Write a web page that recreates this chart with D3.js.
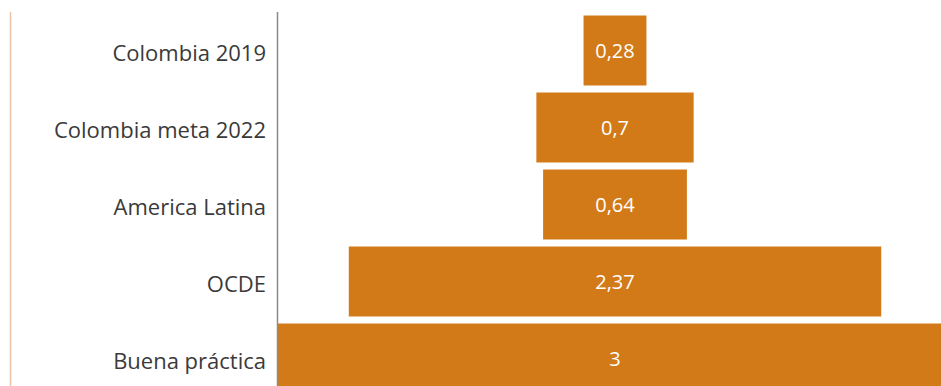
<!DOCTYPE html>
<html>
<head>
<meta charset="utf-8">
<script src="https://cdn.jsdelivr.net/npm/d3@7"></script>
<style>
	body { margin: 0; background: #fff; }
	svg { display: block; font-family: "Open Sans", sans-serif; }
</style>
</head>
<body>
<div id="chart"></div>
<script>
// categories, top to bottom
var categories = ["Colombia 2019", "Colombia meta 2022", "America Latina", "OCDE", "Buena práctica"];
var values = [0.28, 0.7, 0.64, 2.37, 3];
var valueLabels = ["0,28", "0,7", "0,64", "2,37", "3"];

var width = 941, height = 386;
var axisX = 277, center = 615;

var svg = d3.select("#chart").append("svg")
	.attr("width", width)
	.attr("height", height);

var y = d3.scaleBand()
	.domain(categories)
	.range([12, 397])
	.paddingInner(0.091)
	.paddingOuter(0.0455);

// half widths, bars are centred on one point
var half = d3.scaleLinear().domain([0, 3]).range([0, 337]);

var rows = categories.map(function(c, i){
	return {name: c, value: values[i], label: valueLabels[i]};
});

svg.append("defs").append("clipPath").attr("id", "plot")
	.append("rect").attr("x", axisX).attr("y", 0).attr("width", width - axisX).attr("height", height);

var bars = svg.append("g").attr("clip-path", "url(#plot)");

bars.selectAll("rect").data(rows).enter().append("rect")
	.attr("x", function(d){ return center - half(d.value); })
	.attr("y", function(d){ return y(d.name); })
	.attr("width", function(d){ return 2 * half(d.value); })
	.attr("height", y.bandwidth())
	.attr("fill", "#d27a18");

bars.selectAll("text").data(rows).enter().append("text")
	.attr("x", center)
	.attr("y", function(d){ return y(d.name) + y.bandwidth()/2; })
	.attr("dy", "0.37em")
	.attr("text-anchor", "middle")
	.attr("fill", "#fff")
	.style("font-size", "20px")
	.text(function(d){ return d.label; });

// left edge line
svg.append("line")
	.attr("x1", 10.5).attr("x2", 10.5)
	.attr("y1", 12).attr("y2", height)
	.attr("stroke", "#ecc4a8").attr("stroke-width", 1.5);

// category axis
var axis = svg.append("g")
	.attr("transform", "translate(" + axisX + ",0)")
	.call(d3.axisLeft(y).tickSize(0).tickPadding(11));

axis.select(".domain").attr("d", "M0.5,12V" + height).attr("stroke", "#8a8a8a").attr("stroke-width", 1.5);
axis.selectAll("text")
	.attr("fill", "#3a3a3a")
	.attr("dy", "0.47em")
	.style("font-size", "22px")
	.style("font-family", "'Open Sans', sans-serif");
</script>
</body>
</html>
